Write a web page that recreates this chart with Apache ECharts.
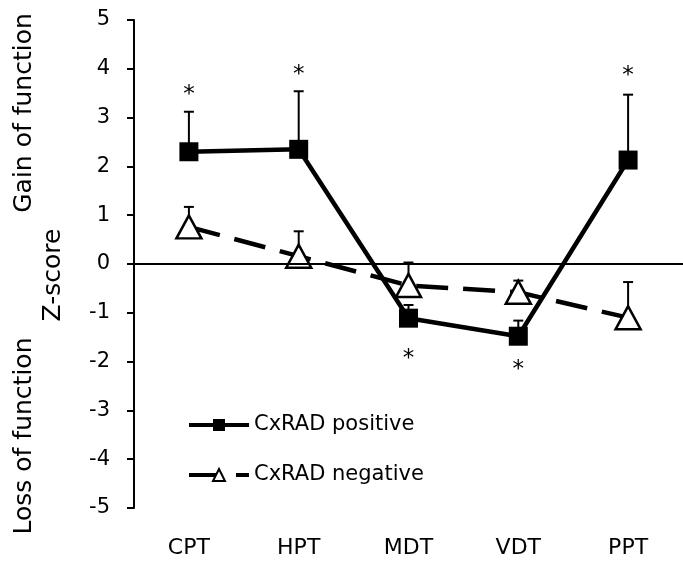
<!DOCTYPE html>
<html>
<head>
<meta charset="utf-8">
<script src="https://cdn.jsdelivr.net/npm/echarts@6/dist/echarts.min.js"></script>
<style>
  html, body { margin: 0; padding: 0; background: #fff; }
  #main { width: 683px; height: 561px; }
</style>
</head>
<body>
<div id="main"></div>
<script>
var categories = ['CPT', 'HPT', 'MDT', 'VDT', 'PPT'];
var yTicks = [-5, -4, -3, -2, -1, 0, 1, 2, 3, 4, 5];

var positiveValues = [2.30, 2.35, -1.11, -1.48, 2.13];
var positiveErrors = [0.82, 1.19, 0.27, 0.32, 1.34];

var negativeValues = [0.76, 0.16, -0.44, -0.58, -1.10];
var negativeErrors = [0.41, 0.51, 0.47, 0.24, 0.73];

// significance marks
var starIndex = [0, 1, 2, 3, 4];
var starValues = [3.59, 4.00, -1.82, -2.04, 3.97];

var FONT = 'DejaVu Sans';

function errorData(values, errors) {
    var out = [];
    for (var i = 0; i < values.length; i++) {
        out.push([i, values[i], values[i] + errors[i]]);
    }
    return out;
}

function renderError(params, api) {
    var p0 = api.coord([api.value(0), api.value(1)]);
    var p1 = api.coord([api.value(0), api.value(2)]);
    var half = 5;
    var style = { stroke: '#000', lineWidth: 2 };
    return {
        type: 'group',
        children: [
            { type: 'line', shape: { x1: p0[0], y1: p0[1], x2: p1[0], y2: p1[1] }, style: style },
            { type: 'line', shape: { x1: p1[0] - half, y1: p1[1], x2: p1[0] + half, y2: p1[1] }, style: style }
        ]
    };
}

function renderStar(params, api) {
    var p = api.coord([api.value(0), api.value(1)]);
    return {
        type: 'text',
        x: p[0],
        y: p[1] + 6,
        style: {
            text: '*',
            fill: '#000',
            font: '23px ' + FONT,
            align: 'center',
            verticalAlign: 'middle'
        }
    };
}

var starData = [];
for (var i = 0; i < starIndex.length; i++) {
    starData.push([starIndex[i], starValues[i]]);
}

var myChart = echarts.init(document.getElementById('main'));
var option = {
    animation: false,
    backgroundColor: '#fff',
    grid: {
        left: 134,
        right: -6,
        top: 20,
        bottom: 53,
        containLabel: false
    },
    legend: {
        orient: 'vertical',
        left: 182,
        top: 409,
        itemWidth: 60,
        itemHeight: 15,
        itemGap: 28,
        lineStyle: { width: 4 },
        textStyle: { fontFamily: FONT, fontSize: 21, color: '#000', lineHeight: 22 },
        data: ['CxRAD positive', 'CxRAD negative']
    },
    xAxis: {
        type: 'category',
        data: categories,
        axisLine: { lineStyle: { color: '#000', width: 2 } },
        axisTick: { show: false },
        axisLabel: { color: '#000', fontFamily: FONT, fontSize: 22, margin: 29 },
        splitLine: { show: false }
    },
    yAxis: {
        type: 'value',
        min: yTicks[0],
        max: yTicks[yTicks.length - 1],
        interval: 1,
        axisLine: { show: true, lineStyle: { color: '#000', width: 2 } },
        axisTick: { show: true, inside: false, length: 7, lineStyle: { color: '#000', width: 2 } },
        axisLabel: { color: '#000', fontFamily: FONT, fontSize: 21, margin: 24 },
        splitLine: { show: false }
    },
    graphic: [
        {
            type: 'text', x: 24, y: 113, rotation: Math.PI / 2,
            style: { text: 'Gain of function', font: '25px ' + FONT, fill: '#000', align: 'center', verticalAlign: 'middle' }
        },
        {
            type: 'text', x: 53, y: 275, rotation: Math.PI / 2,
            style: { text: 'Z-score', font: '25px ' + FONT, fill: '#000', align: 'center', verticalAlign: 'middle' }
        },
        {
            type: 'text', x: 24, y: 436, rotation: Math.PI / 2,
            style: { text: 'Loss of function', font: '25px ' + FONT, fill: '#000', align: 'center', verticalAlign: 'middle' }
        }
    ],
    series: [
        {
            name: 'err-pos',
            type: 'custom',
            z: 1,
            renderItem: renderError,
            data: errorData(positiveValues, positiveErrors)
        },
        {
            name: 'err-neg',
            type: 'custom',
            z: 1,
            renderItem: renderError,
            data: errorData(negativeValues, negativeErrors)
        },
        {
            name: 'CxRAD negative',
            type: 'line',
            z: 3,
            data: negativeValues,
            symbol: 'triangle',
            symbolSize: [25, 23],
            itemStyle: { color: '#fff', borderColor: '#000', borderWidth: 2.5 },
            lineStyle: { color: '#000', width: 4.5, type: [32, 15] }
        },
        {
            name: 'CxRAD positive',
            type: 'line',
            z: 4,
            data: positiveValues,
            symbol: 'rect',
            symbolSize: 19,
            itemStyle: { color: '#000', borderColor: '#000', borderWidth: 0 },
            lineStyle: { color: '#000', width: 4.5 },
            markLine: {
                silent: true,
                symbol: 'none',
                label: { show: false },
                lineStyle: { color: '#000', width: 2, type: 'solid' },
                data: [{ yAxis: 0 }]
            }
        },
        {
            name: 'stars',
            type: 'custom',
            z: 5,
            renderItem: renderStar,
            data: starData
        }
    ]
};
myChart.setOption(option);
</script>
</body>
</html>
